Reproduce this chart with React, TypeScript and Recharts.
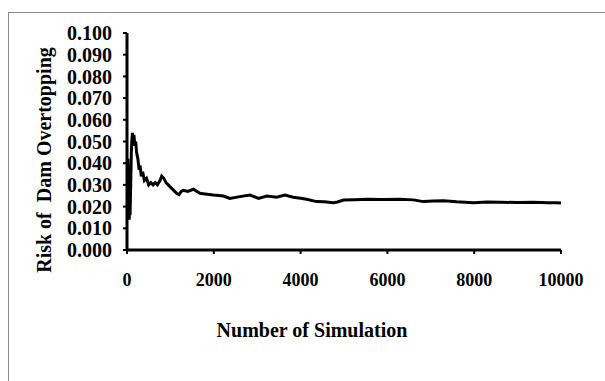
import { LineChart, Line, XAxis, YAxis, Label } from "recharts";

// running estimate of overtopping risk vs number of simulations
const simulations = [
  10, 20, 30, 40, 50, 60, 70, 80, 90, 100, 110, 125, 140, 160, 180, 200, 220, 250, 280, 300,
  330, 360, 400, 450, 500, 550, 600, 650, 700, 760, 800, 850, 900, 950, 1000, 1100, 1150, 1200,
  1250, 1300, 1400, 1530, 1680, 1800, 1990, 2220, 2370, 2600, 2830, 3030, 3220, 3450, 3640,
  3830, 4000, 4140, 4370, 4550, 4750, 4850, 4990, 5250, 5520, 5900, 6290, 6600, 6830, 7050,
  7290, 7600, 7980, 8300, 8600, 9000, 9360, 9700, 9900, 10000,
];
const risk = [
  0.02, 0.042, 0.03, 0.018, 0.014, 0.02, 0.016, 0.025, 0.035, 0.045, 0.05, 0.054, 0.051, 0.053,
  0.048, 0.05, 0.045, 0.042, 0.037, 0.039, 0.034, 0.036, 0.032, 0.033, 0.03, 0.031, 0.03, 0.031,
  0.03, 0.032, 0.034, 0.033, 0.031, 0.03, 0.029, 0.027, 0.026, 0.0255, 0.027, 0.0275, 0.027,
  0.028, 0.0261, 0.0258, 0.0253, 0.0249, 0.0238, 0.0246, 0.0253, 0.0238, 0.0249, 0.0243,
  0.0253, 0.0243, 0.0238, 0.0234, 0.0223, 0.0222, 0.0218, 0.0221, 0.023, 0.0232, 0.0234,
  0.0233, 0.0234, 0.0231, 0.0223, 0.0226, 0.0227, 0.0222, 0.0218, 0.0221, 0.022, 0.0219,
  0.022, 0.0218, 0.0218, 0.0217,
];
const xTicks = [0, 2000, 4000, 6000, 8000, 10000];
const yTicks = [0, 0.01, 0.02, 0.03, 0.04, 0.05, 0.06, 0.07, 0.08, 0.09, 0.1];

const data = simulations.map((n, i) => ({ n, risk: risk[i] }));

const font = "'Liberation Serif', 'Times New Roman', serif";
const xTickStyle = { fontFamily: font, fontSize: 18, fontWeight: 700, fill: "#000" };
const yTickStyle = { fontFamily: font, fontSize: 20, fontWeight: 700, fill: "#000" };
const titleStyle = { fontFamily: font, fontSize: 20, fontWeight: 700, fill: "#000", whiteSpace: "pre" as const };

export default function App() {
  return (
    <div style={{ position: "fixed", left: 0, top: 0, width: 605, height: 381, overflow: "hidden", background: "#fff" }}>
      <div
        style={{
          position: "absolute",
          left: 8,
          top: 12,
          width: 640,
          height: 420,
          border: "1px solid #8c8c8c",
        }}
      />
      <div style={{ position: "absolute", left: 0, top: 0 }}>
        <LineChart width={605} height={381} data={data} margin={{ top: 33, right: 44, left: 0, bottom: 0 }}>
          <XAxis
            dataKey="n"
            type="number"
            domain={[0, 10000]}
            ticks={xTicks}
            height={131}
            axisLine={{ stroke: "#000", strokeWidth: 3 }}
            tickLine={{ stroke: "#000", strokeWidth: 2 }}
            tickSize={4}
            tickMargin={19}
            tick={xTickStyle}
          >
            <Label
              content={() => (
                <text x={312} y={330} textAnchor="middle" dominantBaseline="central" style={titleStyle}>
                  Number of Simulation
                </text>
              )}
            />
          </XAxis>
          <YAxis
            type="number"
            domain={[0, 0.1]}
            ticks={yTicks}
            width={127}
            interval={0}
            axisLine={{ stroke: "#000", strokeWidth: 3 }}
            tickLine={{ stroke: "#000", strokeWidth: 2 }}
            tickSize={4}
            tickMargin={11}
            tick={yTickStyle}
            tickFormatter={(v: number) => v.toFixed(3)}
          >
            <Label
              content={() => (
                <text
                  x={44}
                  y={160}
                  transform="rotate(-90 44 160)"
                  textAnchor="middle"
                  dominantBaseline="central"
                  style={titleStyle}
                >
                  {"Risk of  Dam Overtopping"}
                </text>
              )}
            />
          </YAxis>
          <Line
            type="linear"
            dataKey="risk"
            stroke="#000"
            strokeWidth={3}
            dot={false}
            isAnimationActive={false}
          />
        </LineChart>
      </div>
    </div>
  );
}
